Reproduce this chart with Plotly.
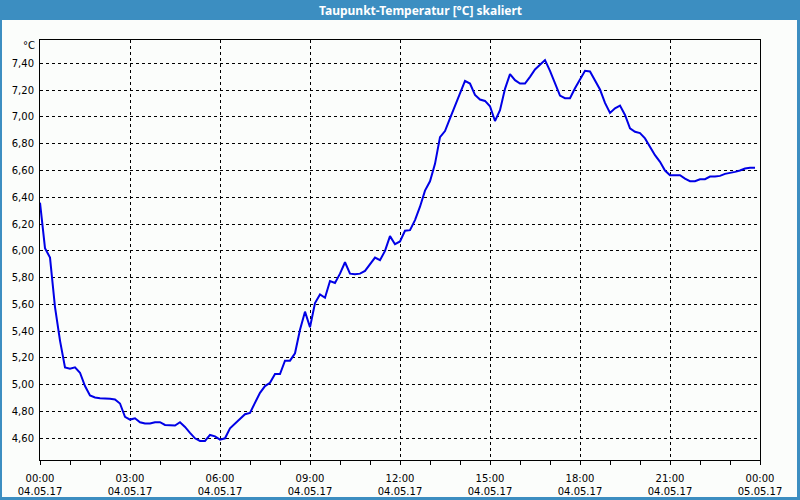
import plotly.graph_objects as go

# time of day in minutes (10-minute readings, 04.05.17 00:00 .. 23:50)
minutes = list(range(0, 1440, 10))
dewpoint = [
    6.36, 6.02, 5.95, 5.58, 5.33, 5.13, 5.12, 5.13, 5.09, 4.99,
    4.92, 4.905, 4.90, 4.90, 4.895, 4.89, 4.86, 4.76, 4.74, 4.75,
    4.72, 4.71, 4.71, 4.72, 4.72, 4.70, 4.695, 4.695, 4.72, 4.685,
    4.64, 4.60, 4.58, 4.58, 4.625, 4.615, 4.59, 4.60, 4.675, 4.71,
    4.75, 4.78, 4.79, 4.87, 4.94, 4.99, 5.015, 5.08, 5.08, 5.18,
    5.18, 5.235, 5.41, 5.546, 5.43, 5.61, 5.675, 5.65, 5.775, 5.76,
    5.83, 5.915, 5.83, 5.825, 5.83, 5.85, 5.905, 5.95, 5.93, 6.00,
    6.11, 6.05, 6.07, 6.15, 6.155, 6.23, 6.33, 6.45, 6.52, 6.65,
    6.85, 6.895, 6.99, 7.085, 7.18, 7.27, 7.25, 7.165, 7.13, 7.12,
    7.08, 6.97, 7.05, 7.21, 7.32, 7.275, 7.25, 7.25, 7.30, 7.355,
    7.39, 7.425, 7.345, 7.25, 7.16, 7.14, 7.14, 7.215, 7.28, 7.345,
    7.34, 7.275, 7.205, 7.105, 7.03, 7.065, 7.085, 7.015, 6.915, 6.89,
    6.88, 6.84, 6.775, 6.715, 6.665, 6.60, 6.565, 6.565, 6.565, 6.54,
    6.52, 6.52, 6.535, 6.535, 6.555, 6.555, 6.56, 6.575, 6.58, 6.59,
    6.60, 6.615, 6.62, 6.62,
]

x_tick_vals = [0, 180, 360, 540, 720, 900, 1080, 1260, 1440]
x_tick_text = [
    "00:00<br>04.05.17", "03:00<br>04.05.17", "06:00<br>04.05.17",
    "09:00<br>04.05.17", "12:00<br>04.05.17", "15:00<br>04.05.17",
    "18:00<br>04.05.17", "21:00<br>04.05.17", "00:00<br>05.05.17",
]
y_tick_vals = [4.6, 4.8, 5.0, 5.2, 5.4, 5.6, 5.8, 6.0, 6.2, 6.4, 6.6, 6.8, 7.0, 7.2, 7.4]

title_text = "Taupunkt-Temperatur [°C] skaliert"
unit_text = "°C"

W, H = 800, 500
ML, MR, MT, MB = 40, 40, 40, 40
PW, PH = W - ML - MR, H - MT - MB


def px(x):
    return (x - ML) / PW


def py(y):
    return (H - MB - y) / PH


BLUE = "#3c8ec1"
BG = "#fbfdfb"

fig = go.Figure(
    go.Scatter(
        x=minutes, y=dewpoint, mode="lines",
        line=dict(color="#0000e6", width=2),
        hoverinfo="skip",
    )
)

fig.update_layout(
    width=W, height=H,
    margin=dict(l=ML, r=MR, t=MT, b=MB, autoexpand=False),
    paper_bgcolor=BG, plot_bgcolor=BG,
    separators=",.",
    showlegend=False,
    font=dict(family="DejaVu Sans", size=10, color="#000000"),
    xaxis=dict(
        range=[0, 1440], automargin=False,
        tickmode="array", tickvals=x_tick_vals, ticktext=x_tick_text,
        ticks="outside", ticklen=4, tickcolor="#000000", tickwidth=1,
        ticklabelstandoff=5,
        minor=dict(ticks="outside", ticklen=4, dtick=60, tick0=0,
                   tickcolor="#000000", showgrid=False),
        showgrid=True, gridcolor="#000000", gridwidth=1, griddash="3px,3px",
        showline=True, linecolor="#000000", linewidth=1, mirror=True,
        zeroline=False, fixedrange=True,
    ),
    yaxis=dict(
        range=[4.438, 7.575], automargin=False,
        tickmode="array", tickvals=y_tick_vals, tickformat=".2f",
        ticks="", ticklabelstandoff=3,
        showgrid=True, gridcolor="#000000", gridwidth=1, griddash="3px,3px",
        showline=True, linecolor="#000000", linewidth=1, mirror=True,
        zeroline=False, fixedrange=True,
    ),
    shapes=[
        # title bar
        dict(type="rect", xref="paper", yref="paper",
             x0=px(0), x1=px(800), y0=py(20), y1=py(0),
             fillcolor=BLUE, line=dict(width=0), layer="above"),
        # window frame
        dict(type="rect", xref="paper", yref="paper",
             x0=px(0), x1=px(2), y0=py(500), y1=py(0),
             fillcolor=BLUE, line=dict(width=0), layer="above"),
        dict(type="rect", xref="paper", yref="paper",
             x0=px(797), x1=px(800), y0=py(500), y1=py(0),
             fillcolor=BLUE, line=dict(width=0), layer="above"),
        dict(type="rect", xref="paper", yref="paper",
             x0=px(0), x1=px(800), y0=py(500), y1=py(497),
             fillcolor=BLUE, line=dict(width=0), layer="above"),
    ],
    annotations=[
        dict(text="<b>" + title_text + "</b>", xref="paper", yref="paper",
             x=px(420), y=py(10), xanchor="center", yanchor="middle",
             showarrow=False,
             font=dict(family="Noto Sans", size=12, color="#ffffff")),
        dict(text=unit_text, xref="paper", yref="paper",
             x=px(37), y=py(45.5), xanchor="right", yanchor="middle",
             showarrow=False,
             font=dict(family="DejaVu Sans", size=10, color="#000000")),
    ],
)

fig.write_html("out.html")
